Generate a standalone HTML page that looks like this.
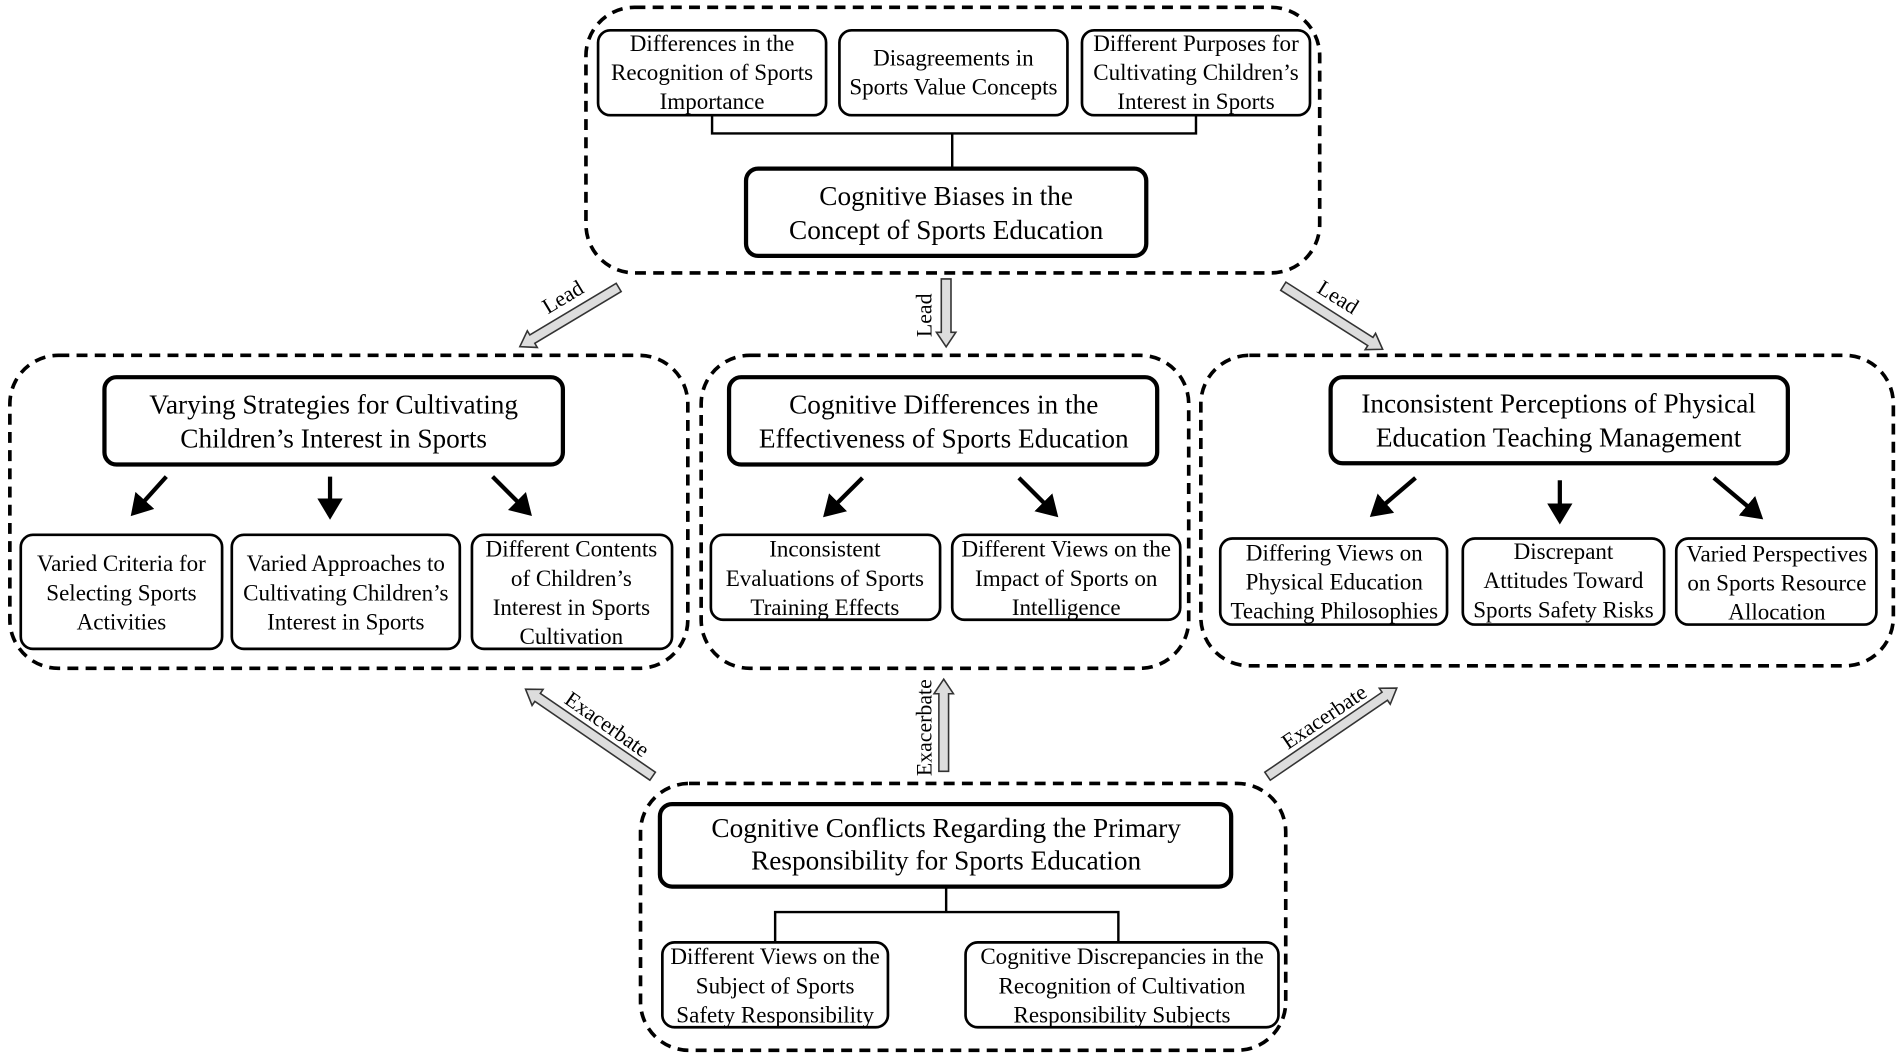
<!DOCTYPE html>
<html><head><meta charset="utf-8"><style>html,body{margin:0;padding:0;background:#fff}svg{display:block}</style></head>
<body>
<svg width="1902" height="1060" viewBox="0 0 1568 874" xmlns="http://www.w3.org/2000/svg" font-family="'Liberation Serif', serif" text-anchor="middle">
<defs>
<marker id="ah" markerWidth="6" markerHeight="6" refX="4" refY="3" orient="auto" markerUnits="strokeWidth"><path d="M0,0 L5,3 L0,6 Z" fill="#000"/></marker>
</defs>
<g fill="none" stroke="#000" stroke-width="3" stroke-dasharray="9,6">
<rect x="483" y="6" width="605" height="219" rx="40"/>
<rect x="8" y="293" width="559" height="258" rx="40"/>
<rect x="578" y="293" width="402" height="258" rx="40"/>
<rect x="990" y="293" width="571" height="256" rx="40"/>
<rect x="528" y="646" width="532" height="220" rx="40"/>
</g>
<g fill="#fff" stroke="#000">
<rect x="615" y="139" width="330" height="72" rx="10" stroke-width="3.5"/>
<rect x="86" y="311" width="378" height="72" rx="10" stroke-width="3.5"/>
<rect x="601" y="311" width="353" height="72" rx="10" stroke-width="3.5"/>
<rect x="1097" y="311" width="377" height="71" rx="10" stroke-width="3.5"/>
<rect x="544" y="663" width="471" height="68" rx="10" stroke-width="3.5"/>
<g stroke-width="2.2">
<rect x="493" y="25" width="188" height="70" rx="10"/>
<rect x="692" y="25" width="188" height="70" rx="10"/>
<rect x="892" y="25" width="188" height="70" rx="10"/>
<rect x="17" y="441" width="166" height="94" rx="10"/>
<rect x="191" y="441" width="188" height="94" rx="10"/>
<rect x="389" y="441" width="165" height="94" rx="10"/>
<rect x="586" y="441" width="189" height="70" rx="10"/>
<rect x="785" y="441" width="188" height="70" rx="10"/>
<rect x="1006" y="444" width="187" height="71" rx="10"/>
<rect x="1206" y="444" width="166" height="71" rx="10"/>
<rect x="1382" y="444" width="165" height="71" rx="10"/>
<rect x="546" y="777" width="186" height="70" rx="10"/>
<rect x="796" y="777" width="258" height="70" rx="10"/>
</g>
</g>
<g fill="none" stroke="#000" stroke-width="2">
<path d="M587,95 V110 H986 V95 M785,110 V139"/>
<path d="M639,777 V752 H922 V777 M780,731 V752"/>
</g>
<g stroke="#000" stroke-width="3.5" marker-end="url(#ah)">
<line x1="137" y1="393" x2="110" y2="423"/>
<line x1="272" y1="393" x2="272" y2="425"/>
<line x1="406" y1="393" x2="436" y2="423"/>
<line x1="711" y1="394" x2="681" y2="424"/>
<line x1="840" y1="394" x2="870" y2="424"/>
<line x1="1167" y1="394" x2="1132" y2="424"/>
<line x1="1286" y1="396" x2="1286" y2="429"/>
<line x1="1413" y1="394" x2="1451" y2="426"/>
</g>
<g fill="#ddd" stroke="#333" stroke-width="1.3">
<g transform="translate(510,237) rotate(149.1)"><polygon points="0,-4 83,-4 83,-8 95,0 83,8 83,4 0,4"/></g>
<g transform="translate(780,230) rotate(90)"><polygon points="0,-4 44,-4 44,-8 56,0 44,8 44,4 0,4"/></g>
<g transform="translate(1058,236) rotate(32.4)"><polygon points="0,-4 85,-4 85,-8 97,0 85,8 85,4 0,4"/></g>
<g transform="translate(538,640) rotate(-145.6)"><polygon points="0,-4 115,-4 115,-8 127,0 115,8 115,4 0,4"/></g>
<g transform="translate(778,636) rotate(-90)"><polygon points="0,-4 64,-4 64,-8 76,0 64,8 64,4 0,4"/></g>
<g transform="translate(1045,640) rotate(-34.3)"><polygon points="0,-4 117,-4 117,-8 129,0 117,8 117,4 0,4"/></g>
</g>
<g font-size="18">
<text transform="translate(467,250) rotate(-31)">Lead</text>
<text transform="translate(768,260) rotate(-90)">Lead</text>
<text transform="translate(1100,250) rotate(32)">Lead</text>
<text transform="translate(497,602) rotate(35)">Exacerbate</text>
<text transform="translate(768,600) rotate(-90)">Exacerbate</text>
<text transform="translate(1095,596) rotate(-34)">Exacerbate</text>
</g>
<g font-size="22.5">
<text x="780" y="169">Cognitive Biases in the</text><text x="780" y="197">Concept of Sports Education</text>
<text x="275" y="341">Varying  Strategies for Cultivating</text><text x="275" y="369">Children’s Interest in Sports</text>
<text x="778" y="341">Cognitive Differences in the</text><text x="778" y="369">Effectiveness of Sports Education</text>
<text x="1285" y="340">Inconsistent Perceptions of Physical</text><text x="1285" y="368">Education Teaching Management</text>
<text x="780" y="690">Cognitive Conflicts Regarding the Primary</text><text x="780" y="717">Responsibility for Sports Education</text>
</g>
<g font-size="19">
<text x="587" y="42">Differences in the</text><text x="587" y="66">Recognition of Sports</text><text x="587" y="90">Importance</text>
<text x="786" y="54">Disagreements in</text><text x="786" y="78">Sports Value Concepts</text>
<text x="986" y="42">Different Purposes for</text><text x="986" y="66">Cultivating Children’s</text><text x="986" y="90">Interest in Sports</text>
<text x="100" y="471">Varied Criteria for</text><text x="100" y="495">Selecting Sports</text><text x="100" y="519">Activities</text>
<text x="285" y="471">Varied Approaches to</text><text x="285" y="495">Cultivating Children’s</text><text x="285" y="519">Interest in Sports</text>
<text x="471" y="459">Different Contents</text><text x="471" y="483">of Children’s</text><text x="471" y="507">Interest in Sports</text><text x="471" y="531">Cultivation</text>
<text x="680" y="459">Inconsistent</text><text x="680" y="483">Evaluations of Sports</text><text x="680" y="507">Training Effects</text>
<text x="879" y="459">Different Views on the</text><text x="879" y="483">Impact of Sports on</text><text x="879" y="507">Intelligence</text>
<text x="1100" y="462">Differing Views on</text><text x="1100" y="486">Physical Education</text><text x="1100" y="510">Teaching Philosophies</text>
<text x="1289" y="461">Discrepant</text><text x="1289" y="485">Attitudes Toward</text><text x="1289" y="509">Sports Safety Risks</text>
<text x="1465" y="463">Varied Perspectives</text><text x="1465" y="487">on Sports Resource</text><text x="1465" y="511">Allocation</text>
<text x="639" y="795">Different Views on the</text><text x="639" y="819">Subject of Sports</text><text x="639" y="843">Safety Responsibility</text>
<text x="925" y="795">Cognitive Discrepancies in the</text><text x="925" y="819">Recognition of Cultivation</text><text x="925" y="843">Responsibility Subjects</text>
</g>
</svg>
</body></html>
